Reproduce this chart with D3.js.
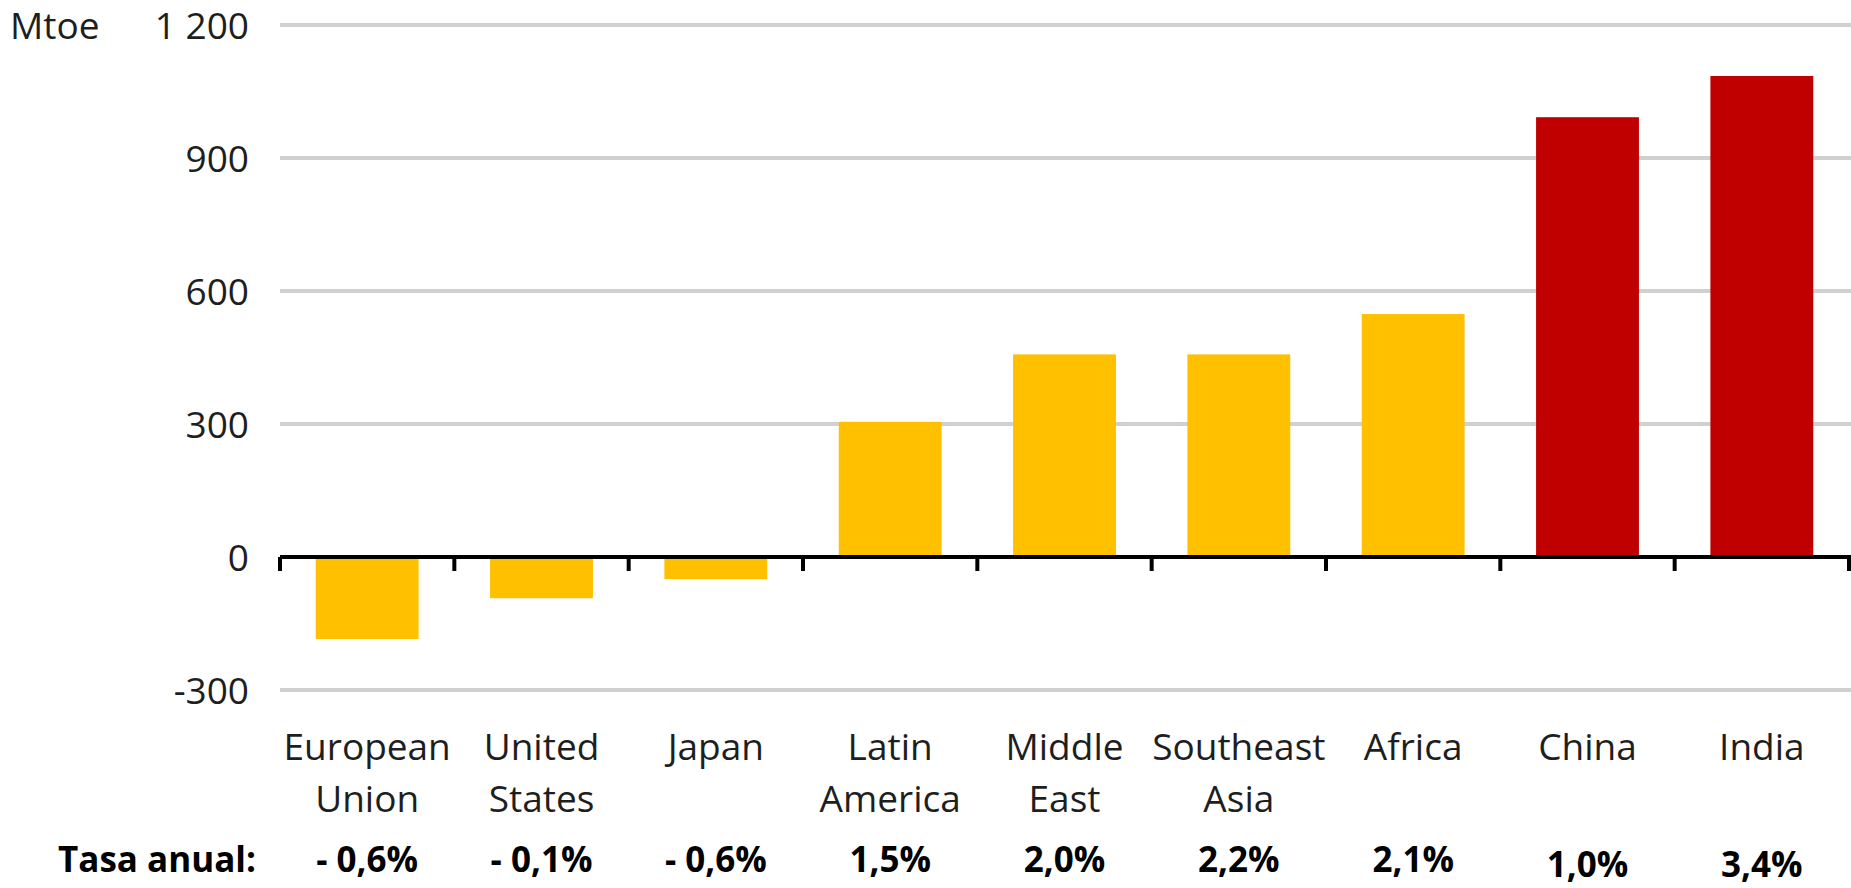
<!DOCTYPE html>
<html>
<head>
<meta charset="utf-8">
<script src="https://cdn.jsdelivr.net/npm/d3@7"></script>
<style>
  html, body { margin: 0; padding: 0; background: #fff; }
  svg { display: block; font-family: "Open Sans", Lato, sans-serif; }
</style>
</head>
<body>
<div id="chart"></div>
<script>
var svgWidth = 1851;
var svgHeight = 888;

// data
var regions = ["European Union", "United States", "Japan", "Latin America", "Middle East",
               "Southeast Asia", "Africa", "China", "India"];
var labelLines = [["European", "Union"], ["United", "States"], ["Japan"], ["Latin", "America"],
                  ["Middle", "East"], ["Southeast", "Asia"], ["Africa"], ["China"], ["India"]];
var demandChange = [-185, -93, -50, 305, 457, 457, 548, 992, 1085];
var annualRate = ["- 0,6%", "- 0,1%", "- 0,6%", "1,5%", "2,0%", "2,2%", "2,1%", "1,0%", "3,4%"];
var highlighted = ["China", "India"];
var yTicks = [-300, 0, 300, 600, 900, 1200];
var yTickLabels = ["-300", "0", "300", "600", "900", "1 200"];

var svg = d3.select("#chart")
    .append("svg")
    .attr("width", svgWidth)
    .attr("height", svgHeight);

var x = d3.scaleBand()
    .domain(regions)
    .range([280, 1849])
    .paddingInner(0.41)
    .paddingOuter(0.205);

var y = d3.scaleLinear()
    .domain([-300, 1200])
    .range([690, 25]);

// gridlines
svg.append("g")
    .selectAll("line")
    .data(yTicks.filter(d => d !== 0))
    .enter()
    .append("line")
    .attr("x1", 280)
    .attr("x2", svgWidth)
    .attr("y1", d => y(d))
    .attr("y2", d => y(d))
    .attr("stroke", "#d0d0d0")
    .attr("stroke-width", 4);

// y tick labels
svg.append("g")
    .selectAll("text")
    .data(yTicks)
    .enter()
    .append("text")
    .attr("x", 249)
    .attr("y", d => y(d) + 14)
    .attr("text-anchor", "end")
    .attr("font-size", 37)
    .attr("fill", "#1e1e1e")
    .text((d, i) => yTickLabels[i]);

svg.append("text")
    .attr("x", 10)
    .attr("y", y(1200) + 14)
    .attr("font-size", 37)
    .attr("fill", "#1e1e1e")
    .text("Mtoe");

// bars
svg.append("g")
    .selectAll("rect")
    .data(regions)
    .enter()
    .append("rect")
    .attr("x", d => x(d))
    .attr("width", x.bandwidth())
    .attr("y", (d, i) => y(Math.max(0, demandChange[i])))
    .attr("height", (d, i) => Math.abs(y(demandChange[i]) - y(0)))
    .attr("fill", d => highlighted.includes(d) ? "#c00000" : "#ffc000");

// zero axis with ticks between categories
var step = x.step();
var boundaries = d3.range(regions.length + 1).map(i => 280 + i * step);
var axis = svg.append("g");
axis.append("line")
    .attr("x1", 280)
    .attr("x2", svgWidth)
    .attr("y1", y(0))
    .attr("y2", y(0))
    .attr("stroke", "#000")
    .attr("stroke-width", 4);
axis.selectAll("line.tick")
    .data(boundaries)
    .enter()
    .append("line")
    .attr("class", "tick")
    .attr("x1", d => d)
    .attr("x2", d => d)
    .attr("y1", y(0))
    .attr("y2", y(0) + 14)
    .attr("stroke", "#000")
    .attr("stroke-width", 4);

// category labels
var catLabels = svg.append("g")
    .selectAll("text")
    .data(regions)
    .enter()
    .append("text")
    .attr("text-anchor", "middle")
    .attr("font-size", 37)
    .attr("fill", "#1e1e1e");

catLabels.selectAll("tspan")
    .data((d, i) => labelLines[i].map(t => ({ t: t, c: d })))
    .enter()
    .append("tspan")
    .attr("x", d => x(d.c) + x.bandwidth() / 2)
    .attr("y", (d, j) => 760 + j * 52)
    .text(d => d.t);

// annual rate row
svg.append("text")
    .attr("x", 58)
    .attr("y", 872)
    .attr("font-size", 35)
    .attr("font-weight", "bold")
    .attr("fill", "#000")
    .text("Tasa anual:");

svg.append("g")
    .selectAll("text")
    .data(regions)
    .enter()
    .append("text")
    .attr("x", d => x(d) + x.bandwidth() / 2)
    .attr("y", d => highlighted.includes(d) ? 877 : 872)
    .attr("text-anchor", "middle")
    .attr("font-size", 35)
    .attr("font-weight", "bold")
    .attr("fill", "#000")
    .text((d, i) => annualRate[i]);
</script>
</body>
</html>
